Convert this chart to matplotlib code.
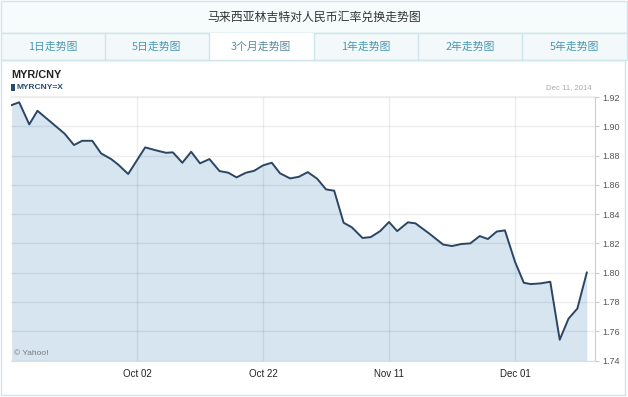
import numpy as np
from matplotlib import pyplot as plt
from matplotlib.patches import Rectangle
import matplotlib
matplotlib.rcParams['font.family'] = ['Liberation Sans', 'DejaVu Sans']

# 数据：距 Oct 02 的天数，汇率
days = [-19.9, -18.7, -17.1, -15.8, -11.5, -10.0, -8.7, -7.1, -5.7, -4.1,
        -3.0, -1.4, 1.3, 3.0, 4.6, 5.7, 7.2, 8.6, 10.0, 11.5,
        13.1, 14.5, 15.8, 17.3, 18.6, 20.0, 21.4, 22.7, 24.3, 25.7,
        27.1, 28.6, 30.0, 31.3, 32.8, 34.1, 35.8, 37.1, 38.6, 40.0,
        41.3, 43.0, 44.2, 46.4, 48.6, 50.0, 51.5, 52.9, 54.4, 55.7,
        57.1, 58.4, 60.0, 61.4, 62.5, 64.1, 65.6, 67.1, 68.5, 69.9, 71.4]
rates = [1.9145, 1.9164, 1.9013, 1.9106, 1.8950, 1.8872, 1.8901, 1.8901, 1.8815, 1.8776,
         1.8739, 1.8674, 1.8856, 1.8836, 1.8819, 1.8822, 1.8751, 1.8826, 1.8747, 1.8776,
         1.8694, 1.8683, 1.8651, 1.8683, 1.8696, 1.8733, 1.8751, 1.8679, 1.8644, 1.8655,
         1.8687, 1.8642, 1.8569, 1.8560, 1.8341, 1.8310, 1.8237, 1.8243, 1.8284, 1.8346,
         1.8284, 1.8344, 1.8337, 1.8267, 1.8192, 1.8182, 1.8196, 1.8200, 1.8250, 1.8230,
         1.8281, 1.8289, 1.8075, 1.7931, 1.7922, 1.7927, 1.7938, 1.7542, 1.7686, 1.7755, 1.8001]
xtick_days = [0, 20, 40, 60]
xtick_labels = ['Oct 02', 'Oct 22', 'Nov 11', 'Dec 01']
ytick_vals = [1.74, 1.76, 1.78, 1.80, 1.82, 1.84, 1.86, 1.88, 1.90, 1.92]
tabs = ['1日走势图', '5日走势图', '3个月走势图', '1年走势图', '2年走势图', '5年走势图']
title = '马来西亚林吉特对人民币汇率兑换走势图'

W, H = 628, 397
fig = plt.figure(figsize=(W/100, H/100), dpi=100)
fig.patch.set_facecolor('white')

def fx(x):
    return x / W

def fy(y):
    return 1 - y / H

def rect(x0, y0, x1, y1, fc='none', ec='none', lw=1):
    r = Rectangle((fx(x0), fy(y1)), fx(x1) - fx(x0), fy(y0) - fy(y1),
                  transform=fig.transFigure, facecolor=fc, edgecolor=ec, lw=lw)
    fig.add_artist(r)

border = '#cfe5ec'
# 标题栏和选项卡
rect(0.5, 0.5, 626.5, 33, fc='#f6fbfc', ec=border)
rect(0.5, 33, 626.5, 60, fc='#f3f9fb', ec=border)
tab_w = 626 / 6
for i, t in enumerate(tabs):
    x0 = 0.5 + i * tab_w
    if i == 2:
        rect(x0, 33, x0 + tab_w, 61, fc='white', ec='none')
    if i > 0:
        fig.add_artist(plt.Line2D([fx(x0), fx(x0)], [fy(33), fy(60)],
                                  transform=fig.transFigure, color=border, lw=1))
    fig.text(fx(x0 + tab_w / 2), fy(47), t, ha='center', va='center',
             fontsize=7.8, color='#4a98b0' if i != 2 else '#5a8a9a',
             family=['Noto Sans CJK SC', 'DejaVu Sans'])
fig.text(0.5, fy(17), title, ha='center', va='center', fontsize=8.6,
         color='#333333', family=['Noto Sans CJK SC', 'DejaVu Sans'])
# 图表外框
rect(0.5, 60, 625, 395, fc='none', ec=border)

fig.text(fx(11), fy(75), 'MYR/CNY', ha='left', va='center', fontsize=7.8,
         fontweight='bold', color='#222222')
rect(11, 83.5, 15, 90.5, fc='#2a4a70')
fig.text(fx(16.5), fy(87.3), 'MYRCNY=X', ha='left', va='center', fontsize=6,
         fontweight='bold', color='#2a4a70')
fig.text(fx(592), fy(87.3), 'Dec 11, 2014', ha='right', va='center', fontsize=5.6,
         color='#aaaaaa')

# 主图
ax = fig.add_axes([fx(11), fy(360.5), fx(595) - fx(11), fy(96) - fy(360.5)])
ax.fill_between(days, rates, 1.70, color='#d6e5f0', lw=0)
ax.plot(days, rates, color='#2b4563', lw=1.4)
ax.set_xlim(-20, 72.7)
ax.set_ylim(1.74, 1.9207)
ax.set_xticks(xtick_days)
ax.set_xticklabels(xtick_labels)
ax.set_yticks(ytick_vals)
ax.set_yticklabels(['%.2f' % v for v in ytick_vals])
ax.yaxis.tick_right()
ax.tick_params(axis='y', length=3, color='#cccccc', labelsize=6.5,
               labelcolor='#555555', pad=2)
ax.tick_params(axis='x', length=0, labelsize=7, labelcolor='#222222', pad=6)
ax.grid(True, color='black', alpha=0.07, lw=1)
ax.spines['left'].set_visible(False)
ax.spines['top'].set_color('#eeeeee')
ax.spines['right'].set_color('#cccccc')
ax.spines['bottom'].set_color('#dddddd')
for s in ax.spines.values():
    s.set_linewidth(0.8)
ax.text(fx(3) / (fx(595) - fx(11)), 0.027, '\u00a9 Yahoo!', transform=ax.transAxes,
        fontsize=6, color='#777777', ha='left', va='center')

plt.savefig('out.png', dpi=100)
